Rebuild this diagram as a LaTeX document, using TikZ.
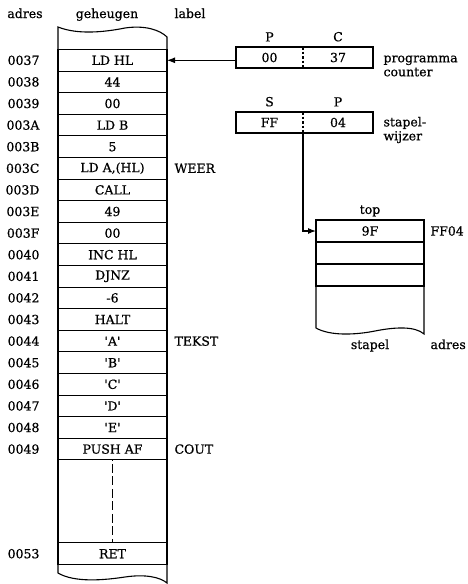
\documentclass[tikz,border=0pt]{standalone}
\usepackage{fontspec}
\setmainfont{DejaVu Serif}[FakeBold=0.7]
\usetikzlibrary{arrows.meta, positioning}
\tikzset{
    myarrow/.style={-{Latex[length=8pt,width=6pt]}},
    cell/.style={draw, rectangle, minimum width=109pt, minimum height=21.6pt, inner sep=0pt, outer sep=0pt},
    reg/.style={rectangle, minimum height=21pt, inner sep=0pt, outer sep=0pt},
    regdiv/.style={dash pattern=on 2.5pt off 2pt},
    txt/.style={inner sep=2pt}
}
\newcommand{\memchr}[1]{\textquotesingle#1\textquotesingle}

\begin{document}
\begin{tikzpicture}[x=1pt, y=-1pt, node distance=21.6pt, line width=1.1pt, font=\fontsize{12.5}{14}\selectfont]
    \useasboundingbox (0,0) rectangle (468,584);
    % column heads
    \node (hadres) [txt, anchor=base] at (25,18) {adres};
    \node (hgeh) [txt, anchor=base] at (107,18) {geheugen};
    \node (hlabel) [txt, anchor=base] at (190,18) {label};
    % memory cells
    \node (m1) [cell] at (112.5,60.3) {LD HL};
    \foreach \val [count=\i from 2] in {44, 00, LD B, 5, {LD A,(HL)}, CALL, 49, 00, INC HL, DJNZ, -6, HALT,
        \memchr{A}, \memchr{B}, \memchr{C}, \memchr{D}, \memchr{E}, PUSH AF} {
        \pgfmathtruncatemacro\j{\i-1}
        \node (m\i) [cell, below of=m\j] {\val};
    }
    \foreach \adr [count=\i] in {0037,0038,0039,003A,003B,003C,003D,003E,003F,0040,0041,0042,0043,0044,0045,0046,0047,0048,0049}
        \node (a\i) [txt, left=16pt of m\i] {\adr};
    \node (weer) [txt, right=5pt of m6] {WEER};
    \node (tekst) [txt, right=5pt of m14] {TEKST};
    \node (cout) [txt, right=5pt of m19] {COUT};
    \node (ret) [cell, below=83pt of m19] {RET};
    \node (a53) [txt, left=16pt of ret] {0053};
    \draw (m19.south west) -- (ret.north west);
    \draw (m19.south east) -- (ret.north east);
    \draw [dash pattern=on 9pt off 3.5pt, dash phase=-4pt] (m19.south) -- (ret.north);
    % torn edges
    \draw (m1.north west) -- (58,27) .. controls (78,35) and (105,32) .. (125,28)
        .. controls (145,25) and (160,30) .. (167,37) -- (m1.north east);
    \draw (ret.south west) -- (58,573) .. controls (75,583) and (105,580) .. (125,577)
        .. controls (145,574) and (160,577) .. (167,583) -- (ret.south east);
    % program counter
    \node (pch) [reg, minimum width=67pt] at (269.5,57.5) {00};
    \node (pcl) [reg, minimum width=70pt, right=0pt of pch] {37};
    \draw (pch.north west) rectangle (pcl.south east);
    \draw [regdiv] (pch.north east) -- (pch.south east);
    \node (pcp) [txt, above=3pt of pch] {P};
    \node (pcc) [txt, above=3pt of pcl] {C};
    \node (pcname) [txt, align=left, anchor=west] at (381,66) {programma\\counter};
    \draw [myarrow] (pch.west |- m1.east) -- (m1.east);
    % stack pointer
    \node (sps) [reg, minimum width=67pt] at (269.5,122.5) {FF};
    \node (spp) [reg, minimum width=70pt, right=0pt of sps] {04};
    \draw (sps.north west) rectangle (spp.south east);
    \draw [regdiv] (sps.north east) -- (sps.south east);
    \node (sps1) [txt, above=3pt of sps] {S};
    \node (spp1) [txt, above=3pt of spp] {P};
    \node (spname) [txt, align=left, anchor=west] at (381,130) {stapel-\\wijzer};
    % stack
    \node (st1) [cell, minimum width=108pt, minimum height=22pt] at (370,231) {9F};
    \node (st2) [cell, minimum width=108pt, minimum height=22pt, below of=st1, node distance=22pt] {};
    \node (st3) [cell, minimum width=108pt, minimum height=22pt, below of=st2, node distance=22pt] {};
    \draw (st3.south west) -- (316,328) .. controls (330,336) and (355,335) .. (375,331)
        .. controls (395,327) and (415,326) .. (424,334) -- (st3.south east);
    \node (sttop) [txt, above=1pt of st1] {top};
    \node (stadr) [txt, right=4pt of st1] {FF04};
    \node (stname) [txt, anchor=base] at (370,349) {stapel};
    \node (stadres) [txt, anchor=base west] at (428,349) {adres};
    \draw [myarrow] (sps.south east) |- (st1.west);
\end{tikzpicture}
\end{document}
